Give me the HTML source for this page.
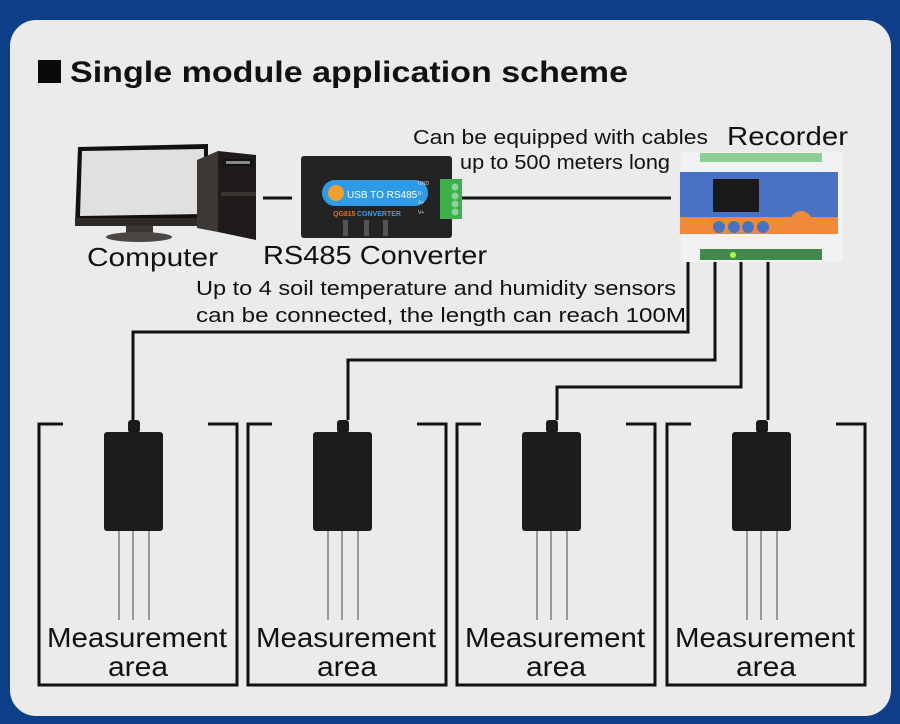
<!DOCTYPE html>
<html><head><meta charset="utf-8"><style>
html,body{margin:0;padding:0;background:#0c3f87;}
svg{display:block;}
text{font-family:"Liberation Sans",sans-serif;fill:#111;}
</style></head><body>
<svg width="900" height="724" viewBox="0 0 900 724" xmlns="http://www.w3.org/2000/svg">
<rect width="900" height="724" fill="#0c3f87"/>
<rect x="10" y="20" width="881" height="696" rx="26" fill="#ebebeb"/>
<rect x="38" y="60" width="23" height="23" fill="#0a0a0a"/>
<text x="70" y="82" font-size="30" font-weight="bold" textLength="558" lengthAdjust="spacingAndGlyphs">Single module application scheme</text>

<polygon points="78,147 208,144 208,222 75,225" fill="#111"/>
<polygon points="82,151 204,149 204,214 80,216" fill="#e0e0e0"/>
<rect x="75" y="218" width="135" height="8" fill="#2e2a28"/>
<rect x="126" y="226" width="27" height="9" fill="#3d3733"/>
<ellipse cx="139" cy="237" rx="33" ry="5" fill="#4a4644"/>
<polygon points="218,151 256,155 256,240 218,232" fill="#1e1b1a"/>
<polygon points="197,160 218,151 218,232 197,228" fill="#3c3836"/>
<rect x="223" y="159" width="30" height="7" fill="#111"/>
<rect x="226" y="161" width="24" height="3" fill="#888"/>
<rect x="221" y="192" width="35" height="4" fill="#3a3431"/>
<text x="87" y="266" font-size="26" textLength="131" lengthAdjust="spacingAndGlyphs">Computer</text>

<line x1="263" y1="198" x2="292" y2="198" stroke="#111" stroke-width="3"/>
<line x1="462" y1="198" x2="671" y2="198" stroke="#111" stroke-width="3"/>

<rect x="301" y="156" width="151" height="82" rx="3" fill="#232323"/>
<rect x="322" y="180" width="106" height="26" rx="13" fill="#2f9be6"/>
<circle cx="336" cy="193" r="8" fill="#f0a030"/>
<text x="347" y="198" font-size="10" style="fill:#fff">USB TO RS485</text>
<text x="333" y="216" font-size="7" style="fill:#e07020" font-weight="bold">QG815</text>
<text x="357" y="216" font-size="7" style="fill:#3a9ce8" font-weight="bold">CONVERTER</text>
<text x="418" y="185" font-size="5" style="fill:#ddd">GND</text>
<text x="418" y="195" font-size="5" style="fill:#ddd">B-</text>
<text x="418" y="204" font-size="5" style="fill:#ddd">A+</text>
<text x="418" y="214" font-size="5" style="fill:#ddd">V+</text>
<rect x="343" y="220" width="5" height="16" fill="#555"/>
<rect x="364" y="220" width="5" height="16" fill="#555"/>
<rect x="383" y="220" width="5" height="16" fill="#555"/>
<rect x="440" y="179" width="22" height="40" fill="#3db04a"/>
<circle cx="455" cy="187" r="3.5" fill="#8fd29a"/><circle cx="455" cy="196" r="3.5" fill="#8fd29a"/>
<circle cx="455" cy="204" r="3.5" fill="#8fd29a"/><circle cx="455" cy="212" r="3.5" fill="#8fd29a"/>
<text x="263" y="264" font-size="26" textLength="224" lengthAdjust="spacingAndGlyphs">RS485 Converter</text>

<text x="727" y="145" font-size="26" textLength="121" lengthAdjust="spacingAndGlyphs">Recorder</text>
<text x="413" y="144" font-size="20" textLength="295" lengthAdjust="spacingAndGlyphs">Can be equipped with cables</text>
<text x="460" y="169" font-size="20" textLength="210" lengthAdjust="spacingAndGlyphs">up to 500 meters long</text>
<rect x="681" y="152" width="162" height="110" rx="4" fill="#f1f2f3"/>
<rect x="700" y="153" width="122" height="9" fill="#8bcf95"/>
<rect x="680" y="172" width="158" height="45" fill="#4a72c4"/>
<rect x="680" y="217" width="158" height="17" fill="#f08a3a"/>
<rect x="713" y="179" width="46" height="33" fill="#1a1a1a"/>
<circle cx="719" cy="227" r="6" fill="#4a72c4"/><circle cx="734" cy="227" r="6" fill="#4a72c4"/>
<circle cx="748" cy="227" r="6" fill="#4a72c4"/><circle cx="763" cy="227" r="6" fill="#4a72c4"/>
<circle cx="801" cy="222" r="11" fill="#f08a3a"/>
<rect x="700" y="249" width="122" height="11" fill="#3f8a4c"/>
<circle cx="733" cy="255" r="3" fill="#aaff44"/>

<g fill="none" stroke="#111" stroke-width="3">
<polyline points="688,262 688,332 133,332 133,420"/>
<polyline points="715,262 715,360 348,360 348,420"/>
<polyline points="741,262 741,387 557,387 557,420"/>
<polyline points="768,262 768,420"/>
</g>
<text x="196" y="295" font-size="20" textLength="480" lengthAdjust="spacingAndGlyphs">Up to 4 soil temperature and humidity sensors</text>
<text x="196" y="322" font-size="20" textLength="490" lengthAdjust="spacingAndGlyphs">can be connected, the length can reach 100M</text>

<g id="s">
<polyline points="63,424 39,424 39,685 237,685 237,424 208,424" fill="none" stroke="#111" stroke-width="3"/>
<rect x="128" y="420" width="12" height="13" rx="3" fill="#1a1a1a"/>
<rect x="104" y="432" width="59" height="99" rx="3" fill="#1c1c1c"/>
<g stroke="#999" stroke-width="2"><line x1="119" y1="531" x2="119" y2="620"/><line x1="133" y1="531" x2="133" y2="620"/><line x1="149" y1="531" x2="149" y2="620"/></g>
<text x="47" y="647" font-size="28" textLength="180" lengthAdjust="spacingAndGlyphs">Measurement</text>
<text x="108" y="676" font-size="28" textLength="60" lengthAdjust="spacingAndGlyphs">area</text>
</g>
<use href="#s" x="209"/>
<use href="#s" x="418"/>
<use href="#s" x="628"/>
</svg>
</body></html>
